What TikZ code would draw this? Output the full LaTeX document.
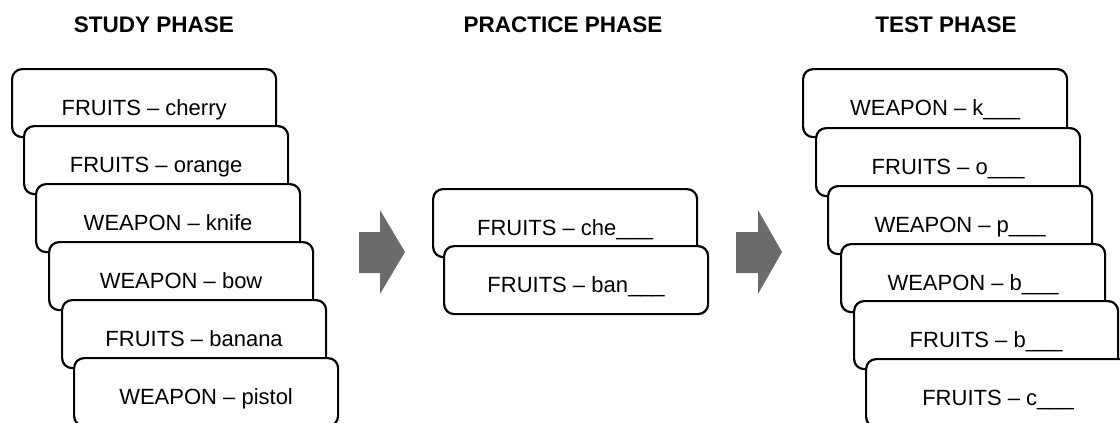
\documentclass[tikz,border=0pt]{standalone}
\usepackage{fontspec}
\setmainfont{Liberation Sans}
\begin{document}
\begin{tikzpicture}[x=1pt,y=-1pt,
  card/.style={draw=black, line width=2.2pt, rounded corners=10pt, fill=white,
    minimum width=264pt, minimum height=68pt, anchor=north west, inner sep=0pt,
    text height=24pt, text depth=0pt, font=\fontsize{22}{24}\selectfont},
  phase/.style={font=\fontsize{22.5}{24}\selectfont\bfseries, inner sep=0pt},
  bigarrow/.style={fill=black!58, draw=none}]
\useasboundingbox (0,0) rectangle (1120,423);
\clip (0,0) rectangle (1120,423);
% titles
\node[phase] (t1) at (154,25) {STUDY PHASE};
\node[phase] (t2) at (563,25) {PRACTICE PHASE};
\node[phase] (t3) at (946,25) {TEST PHASE};
% study phase
\node[card] (s1) at (11,68) {FRUITS – cherry};
\node[card] (s2) at (23,125) {FRUITS – orange};
\node[card] (s3) at (35,183) {WEAPON – knife};
\node[card] (s4) at (48,241) {WEAPON – bow};
\node[card] (s5) at (61,299) {FRUITS – banana};
\node[card] (s6) at (73,357) {WEAPON – pistol};
% practice phase
\node[card] (p1) at (432,188) {FRUITS – che\_\_\_};
\node[card] (p2) at (443,245) {FRUITS – ban\_\_\_};
% test phase
\node[card] (e1) at (802,68) {WEAPON – k\_\_\_};
\node[card] (e2) at (815,127) {FRUITS – o\_\_\_};
\node[card] (e3) at (827,185) {WEAPON – p\_\_\_};
\node[card] (e4) at (840,243) {WEAPON – b\_\_\_};
\node[card] (e5) at (853,300) {FRUITS – b\_\_\_};
\node[card] (e6) at (865,358) {FRUITS – c\_\_\_};
% arrows
\fill[bigarrow] (359,232) -- (380,232) -- (380,210) -- (405,252) -- (380,294) -- (380,273) -- (359,273) -- cycle;
\fill[bigarrow] (736,232) -- (758,232) -- (758,210) -- (782,252) -- (758,294) -- (758,273) -- (736,273) -- cycle;
\end{tikzpicture}
\end{document}
